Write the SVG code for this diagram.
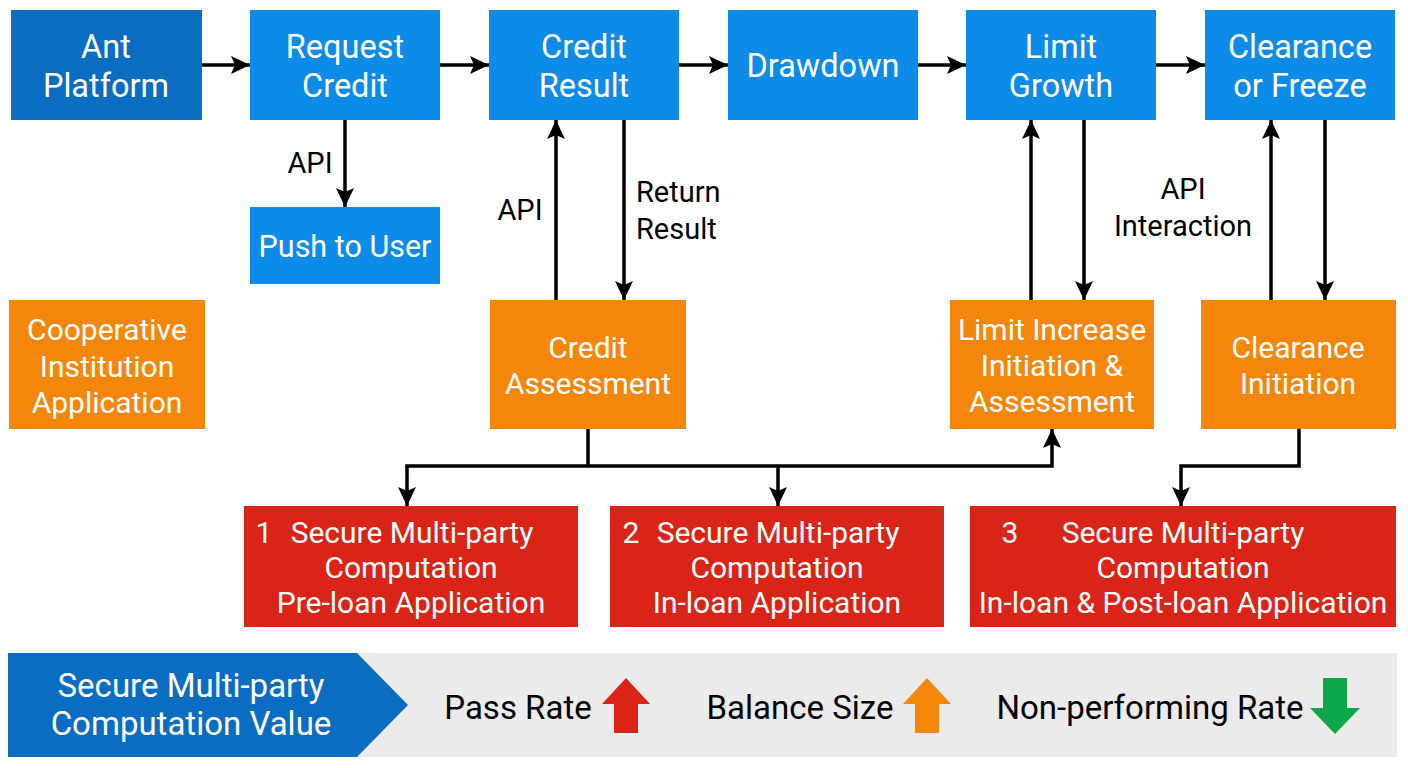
<svg xmlns="http://www.w3.org/2000/svg" width="1408" height="768" viewBox="0 0 1408 768">
<defs>
<marker id="ah" markerUnits="userSpaceOnUse" markerWidth="20" markerHeight="20" viewBox="0 0 20 20" refX="19" refY="10" orient="auto">
<path d="M0,1 L19,10 L0,19 L4,10 Z" fill="#000"/>
</marker>
<style>
text{font-family:Roboto,"Liberation Sans",sans-serif;text-anchor:middle}
.t{fill:#fff;font-size:32.5px}
.o{fill:#fff;font-size:30px}
.r{fill:#fff;font-size:30px}
.l{fill:#000;font-size:29px}
.b{font-size:33px}
.dk{fill:#0B6DC1}
.bl{fill:#0C8BE8}
.or{fill:#F4870B}
.rd{fill:#D92417}
.c{fill:none;stroke:#000;stroke-width:3.5;marker-end:url(#ah)}
.cn{fill:none;stroke:#000;stroke-width:3.5}
</style>
</defs>
<rect width="1408" height="768" fill="#fff"/>

<g id="ant"><rect class="dk" x="11" y="10" width="191" height="110"/><text class="t" x="106" y="58">Ant</text><text class="t" x="106" y="97">Platform</text></g>
<g id="request"><rect class="bl" x="250" y="10" width="190" height="110"/><text class="t" x="345" y="58">Request</text><text class="t" x="345" y="97">Credit</text></g>
<g id="result"><rect class="bl" x="489" y="10" width="190" height="110"/><text class="t" x="584" y="58">Credit</text><text class="t" x="584" y="97">Result</text></g>
<g id="drawdown"><rect class="bl" x="728" y="10" width="190" height="110"/><text class="t" x="823" y="77">Drawdown</text></g>
<g id="growth"><rect class="bl" x="966" y="10" width="190" height="110"/><text class="t" x="1061" y="58">Limit</text><text class="t" x="1061" y="97">Growth</text></g>
<g id="clearance"><rect class="bl" x="1205" y="10" width="190" height="110"/><text class="t" x="1300" y="58">Clearance</text><text class="t" x="1300" y="97">or Freeze</text></g>
<g id="push"><rect class="bl" x="250" y="207" width="190" height="77"/><text class="t" x="345" y="257" style="font-size:30.5px">Push to User</text></g>

<g id="coop"><rect class="or" x="9" y="300" width="196" height="129"/><text class="o" x="107" y="340">Cooperative</text><text class="o" x="107" y="377">Institution</text><text class="o" x="107" y="413">Application</text></g>
<g id="assess"><rect class="or" x="490" y="300" width="196" height="129"/><text class="o" x="588" y="358">Credit</text><text class="o" x="588" y="394">Assessment</text></g>
<g id="limitinc"><rect class="or" x="950" y="300" width="204" height="129"/><text class="o" x="1052" y="340">Limit Increase</text><text class="o" x="1052" y="376">Initiation &amp;</text><text class="o" x="1052" y="412">Assessment</text></g>
<g id="clearinit"><rect class="or" x="1201" y="300" width="195" height="129"/><text class="o" x="1298" y="358">Clearance</text><text class="o" x="1298" y="394">Initiation</text></g>

<g id="smpc1"><rect class="rd" x="244" y="506" width="334" height="121"/><text class="r" x="264" y="543">1</text><text class="r" x="412" y="543">Secure Multi-party</text><text class="r" x="411" y="578">Computation</text><text class="r" x="411" y="613">Pre-loan Application</text></g>
<g id="smpc2"><rect class="rd" x="610" y="506" width="334" height="121"/><text class="r" x="631" y="543">2</text><text class="r" x="778" y="543">Secure Multi-party</text><text class="r" x="777" y="578">Computation</text><text class="r" x="777" y="613">In-loan Application</text></g>
<g id="smpc3"><rect class="rd" x="970" y="506" width="426" height="121"/><text class="r" x="1010" y="543">3</text><text class="r" x="1183" y="543">Secure Multi-party</text><text class="r" x="1183" y="578">Computation</text><text class="r" x="1183" y="613">In-loan &amp; Post-loan Application</text></g>

<g id="connectors">
<path class="c" d="M202,65 H250"/>
<path class="c" d="M440,65 H489"/>
<path class="c" d="M679,65 H728"/>
<path class="c" d="M918,65 H966"/>
<path class="c" d="M1156,65 H1205"/>
<path class="c" d="M345,120 V207"/>
<path class="c" d="M556,300 V120"/>
<path class="c" d="M624,120 V300"/>
<path class="c" d="M1031,300 V120"/>
<path class="c" d="M1084,120 V300"/>
<path class="c" d="M1271,300 V120"/>
<path class="c" d="M1325,120 V300"/>
<path class="cn" d="M588,429 V466"/>
<path class="c" d="M407,466 V506"/>
<path class="c" d="M778,466 V506"/>
<path class="c" d="M405.25,466 H1052 V429"/>
<path class="c" d="M1299,429 V466 H1181 V506"/>
<text class="l" x="310" y="173">API</text>
<text class="l" x="520" y="220">API</text>
<text class="l" x="636" y="202" style="text-anchor:start">Return</text>
<text class="l" x="636" y="239" style="text-anchor:start">Result</text>
<text class="l" x="1183" y="199">API</text>
<text class="l" x="1183" y="236">Interaction</text>
</g>

<g id="banner">
<rect x="8" y="653" width="1389" height="104" fill="#EBEBEB"/>
<path d="M8,653 H357 L408,705 L357,757 H8 Z" fill="#0B6DC1"/>
<text class="b" x="191" y="697" style="fill:#fff">Secure Multi-party</text>
<text class="b" x="191" y="735" style="fill:#fff">Computation Value</text>
<text class="b" x="518" y="719" style="fill:#000">Pass Rate</text>
<path d="M626,678 L650,704 L638,704 L638,733 L614,733 L614,704 L602,704 Z" fill="#D92417"/>
<text class="b" x="800" y="719" style="fill:#000">Balance Size</text>
<path d="M927,678 L951,704 L939,704 L939,733 L915,733 L915,704 L903,704 Z" fill="#F4870B"/>
<text class="b" x="1150" y="719" style="fill:#000">Non-performing Rate</text>
<path d="M1335,734 L1360,708 L1347,708 L1347,678 L1323,678 L1323,708 L1310,708 Z" fill="#0DA84A"/>
</g>
</svg>
